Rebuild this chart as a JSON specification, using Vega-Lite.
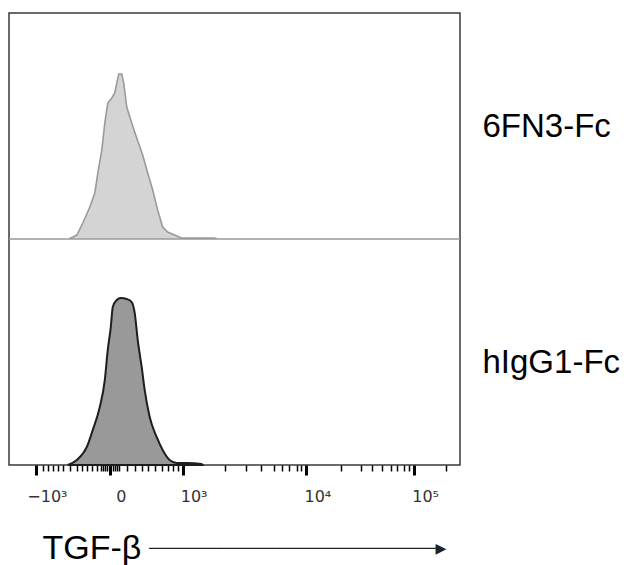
{
  "$schema": "https://vega.github.io/schema/vega-lite/v6.json",
  "width": 451,
  "height": 452,
  "autosize": {"type": "none"},
  "padding": {"left": 9, "top": 13, "right": 173, "bottom": 100},
  "background": "white",
  "config": {
    "view": {"stroke": "#3a3a3a", "strokeWidth": 1.5},
    "font": "Liberation Sans"
  },
  "title": {
    "text": "──────────────────────────────────▶",
    "orient": "bottom",
    "anchor": "start",
    "frame": "group",
    "font": "DejaVu Sans",
    "fontSize": 14,
    "fontWeight": "normal",
    "color": "#222222",
    "offset": 0,
    "dx": 140,
    "dy": -23
  },
  "datasets": {
    "fn3": [
      {"channel": 0, "count": 0},
      {"channel": 132.7, "count": 0},
      {"channel": 150.4, "count": 2.4},
      {"channel": 163.7, "count": 9.7},
      {"channel": 179.2, "count": 19.4},
      {"channel": 190.3, "count": 27.9},
      {"channel": 196.9, "count": 40},
      {"channel": 205.8, "count": 53.9},
      {"channel": 212.4, "count": 70.3},
      {"channel": 219.0, "count": 82.4},
      {"channel": 227.9, "count": 85.5},
      {"channel": 234.5, "count": 88.5},
      {"channel": 238.9, "count": 94.5},
      {"channel": 243.4, "count": 100},
      {"channel": 250.0, "count": 100},
      {"channel": 254.4, "count": 94.5},
      {"channel": 261.1, "count": 80},
      {"channel": 272.1, "count": 70.3},
      {"channel": 283.2, "count": 61.2},
      {"channel": 296.5, "count": 50.9},
      {"channel": 307.5, "count": 40},
      {"channel": 318.6, "count": 29.7},
      {"channel": 329.6, "count": 17.6},
      {"channel": 340.7, "count": 7.3},
      {"channel": 351.8, "count": 4.2},
      {"channel": 367.3, "count": 2.4},
      {"channel": 382.7, "count": 0.6},
      {"channel": 422.6, "count": 0.6},
      {"channel": 455.8, "count": 0.6},
      {"channel": 462.4, "count": 0},
      {"channel": 1000, "count": 0}
    ],
    "igg": [
      {"channel": 130.5, "count": 0},
      {"channel": 150.4, "count": 3.0},
      {"channel": 172.6, "count": 10.8},
      {"channel": 185.8, "count": 21.0},
      {"channel": 201.3, "count": 34.7},
      {"channel": 212.4, "count": 50.9},
      {"channel": 219.0, "count": 68.9},
      {"channel": 225.7, "count": 82.6},
      {"channel": 230.1, "count": 94.6},
      {"channel": 238.9, "count": 98.8},
      {"channel": 247.8, "count": 100},
      {"channel": 261.1, "count": 99.4},
      {"channel": 272.1, "count": 97.6},
      {"channel": 278.8, "count": 91.0},
      {"channel": 285.4, "count": 74.9},
      {"channel": 294.2, "count": 58.7},
      {"channel": 300.9, "count": 44.9},
      {"channel": 312.0, "count": 28.7},
      {"channel": 327.4, "count": 16.8},
      {"channel": 340.7, "count": 9.0},
      {"channel": 356.2, "count": 3.0},
      {"channel": 371.7, "count": 1.2},
      {"channel": 393.8, "count": 1.2},
      {"channel": 427.0, "count": 0.6},
      {"channel": 429.2, "count": 0}
    ],
    "samples": [
      {"sample": "6FN3-Fc"},
      {"sample": "hIgG1-Fc"}
    ]
  },
  "encoding": {
    "x": {
      "field": "channel",
      "type": "quantitative",
      "scale": {"domain": [0, 1000], "nice": false, "zero": false},
      "axis": {
        "values": [59.7, 75.2, 86.3, 97.3, 108.4, 119.5, 135.0, 150.4, 161.5, 172.6, 183.6, 194.7, 203.5, 207.9, 212.4, 216.8, 223.5, 230.1, 234.5, 239.0, 243.4, 261.1, 278.8, 294.2, 307.5, 323.0, 338.5, 351.8, 362.8, 373.9, 385, 477.9, 526.5, 559.7, 588.5, 606.2, 621.7, 639.4, 648.2, 659.3, 736.7, 781.0, 805.3, 827.4, 847.3, 860.6, 876.1, 887.2, 898.2, 969.0],
        "labelExpr": "abs(datum.value-59.7)<0.01 ? '−10³' : abs(datum.value-223.5)<0.01 ? '0' : abs(datum.value-385)<0.01 ? '10³' : abs(datum.value-659.3)<0.01 ? '10⁴' : abs(datum.value-898.2)<0.01 ? '10⁵' : ''",
        "labelOverlap": false,
        "labelBound": false,
        "labelFlush": false,
        "labelFont": "DejaVu Sans",
        "labelFontSize": 16,
        "labelColor": "#333333",
        "labelAlign": "center",
        "labelOffset": 11,
        "labelPadding": 13,
        "domain": false,
        "grid": false,
        "tickColor": "#000000",
        "tickSize": {"condition": {"test": "indexof([59.7,223.5,385,659.3,898.2], datum.value) >= 0", "value": 10}, "value": 6},
        "tickWidth": {"condition": {"test": "indexof([59.7,223.5,385,659.3,898.2], datum.value) >= 0", "value": 3}, "value": 1.5},
        "title": "TGF-β",
        "titleFont": "Liberation Sans",
        "titleFontSize": 34,
        "titleFontWeight": "normal",
        "titleColor": "#000000",
        "titleAnchor": "start",
        "titleAlign": "left",
        "titleBaseline": "alphabetic",
        "titleX": 33,
        "titleY": 93
      }
    }
  },
  "layer": [
    {
      "data": {"name": "samples"},
      "mark": {"type": "text", "opacity": 0, "invalid": null},
      "encoding": {
        "x": {"datum": 500, "type": "quantitative"},
        "y": {
          "field": "sample",
          "type": "nominal",
          "sort": null,
          "scale": {"domain": ["6FN3-Fc", "hIgG1-Fc"]},
          "axis": {
            "orient": "right",
            "domain": false,
            "ticks": false,
            "title": null,
            "labelFont": "Liberation Sans",
            "labelFontSize": 33,
            "labelColor": "#000000",
            "labelPadding": 22,
            "labelAlign": "left",
            "labelOffset": {"condition": {"test": "datum.value == 'hIgG1-Fc'", "value": 10}, "value": 0}
          }
        },
        "text": {"field": "sample"}
      }
    },
    {
      "data": {"name": "fn3"},
      "mark": {"type": "area", "fill": "#d4d4d4", "stroke": "#9a9a9a", "strokeWidth": 1.6, "interpolate": "linear"},
      "encoding": {
        "y": {"field": "count", "type": "quantitative", "scale": {"domain": [-137, 137], "nice": false}, "axis": null}
      }
    },
    {
      "data": {"name": "igg"},
      "mark": {"type": "area", "fill": "#999999", "stroke": "#1e1e1e", "strokeWidth": 2, "interpolate": "monotone"},
      "encoding": {
        "y": {"field": "count", "type": "quantitative", "scale": {"domain": [0, 270.7], "nice": false}, "axis": null}
      }
    }
  ],
  "resolve": {"scale": {"y": "independent"}, "axis": {"y": "independent"}}
}
